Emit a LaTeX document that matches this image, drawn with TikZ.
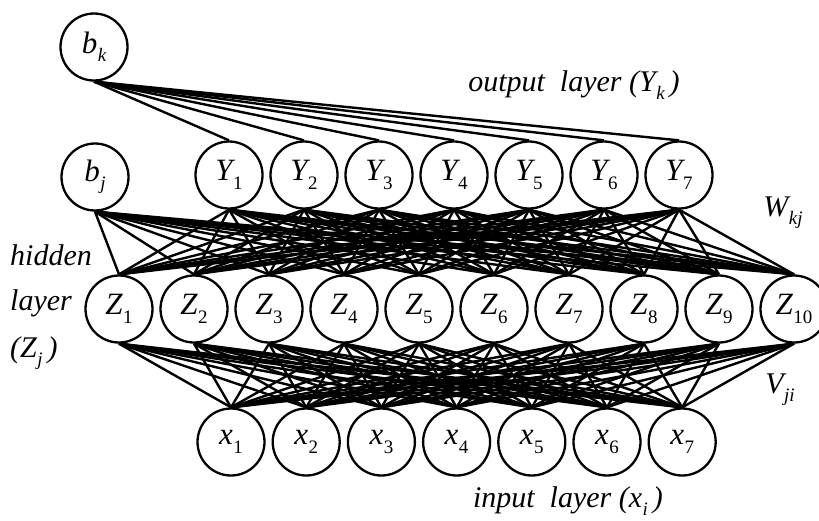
\documentclass[tikz,border=0pt]{standalone}
\usepackage{fontspec}
\setmainfont{Liberation Serif}
\newcommand\subsc[1]{\kern0.5pt\raisebox{-0.27em}{\fontsize{19}{19}\selectfont #1}}
\begin{document}
\begin{tikzpicture}[x=1pt,y=-1pt,
  neuron/.style={circle,draw,line width=2.3pt,minimum size=67pt,inner sep=0pt,fill=white,font=\fontsize{31}{31}\selectfont\itshape},
  conn/.style={line width=2.4pt},
  lbl/.style={font=\fontsize{30}{32}\selectfont\itshape,inner sep=0pt}]
\useasboundingbox (0,0) rectangle (819,520);
\clip (0,0) rectangle (819,520);
\node[neuron] (bk) at (94,47) {b\subsc{k}};
\node[neuron] (bj) at (95,177) {b\subsc{j}};
\foreach \i in {1,...,7} \node[neuron] (y\i) at ({229+75*(\i-1)},175) {Y\subsc{\textup{\i}}};
\foreach \j in {1,...,10} \node[neuron] (z\j) at ({119+75*(\j-1)},309) {Z\subsc{\textup{\j}}};
\foreach \i in {1,...,7} \node[neuron] (x\i) at ({231+75.2*(\i-1)},442) {x\subsc{\textup{\i}}};
\foreach \i in {1,...,7} \draw[conn] (bk.south) -- (y\i.north);
\foreach \j in {1,...,10} \draw[conn] (bj.south) -- (z\j.north);
\foreach \i in {1,...,7} \foreach \j in {1,...,10} \draw[conn] (z\j.north) -- (y\i.south);
\foreach \i in {1,...,7} \foreach \j in {1,...,10} \draw[conn] (x\i.north) -- (z\j.south);
\node[lbl,anchor=base] (ot) at (574,91) {output\ \ layer (Y\subsc{k}\,)};
\node[lbl,anchor=base west] (h1) at (10,265) {hidden};
\node[lbl,anchor=base west] (h2) at (10,310) {layer};
\node[lbl,anchor=base west] (h3) at (10,357) {(Z\subsc{j}\,)};
\node[lbl] (w) at (783,213) {W\subsc{kj}};
\node[lbl] (v) at (780,390) {V\subsc{ji}};
\node[lbl,anchor=base] (it) at (568,507) {input\ \ layer (x\subsc{i}\,)};
\end{tikzpicture}
\end{document}
